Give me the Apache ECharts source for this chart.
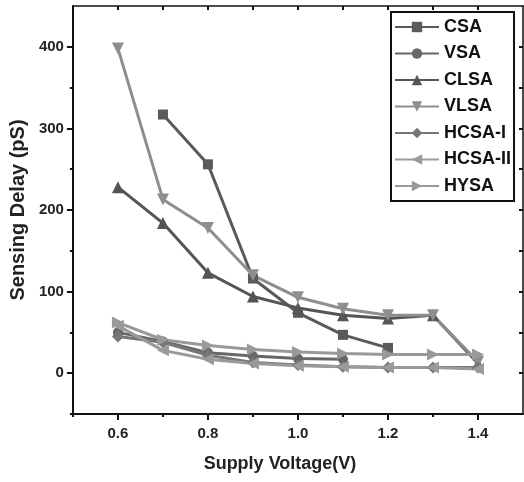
<!DOCTYPE html>
<html>
<head>
<meta charset="utf-8">
<script src="https://cdn.jsdelivr.net/npm/echarts@6/dist/echarts.min.js"></script>
<style>html,body{margin:0;padding:0;background:#fff}#c{width:524px;height:482px}</style>
</head>
<body>
<div id="c"></div>
<script>
var voltages = [0.6, 0.7, 0.8, 0.9, 1.0, 1.1, 1.2, 1.3, 1.4];
var CSA     = [null, 317, 256, 116, 74, 47, 31, null, null];
var VSA     = [50, 39, 25, 21, 18, 17, null, null, null];
var CLSA    = [228, 184, 123, 94, 80, 71, 67, 71, 12];
var VLSA    = [398, 213, 178, 120, 93, 79, 71, 71, 14];
var HCSA_I  = [45, 38, 22, 13, 10, 8, 7, 7, 7];
var HCSA_II = [58, 28, 17, 12, 9, 8, 7, 7, 5];
var HYSA    = [62, 41, 34, 29, 26, 24, 23, 23, 23];
var xTickLabels = [0.6, 0.8, 1.0, 1.2, 1.4];
var yTickLabels = [0, 100, 200, 300, 400];

function pairs(arr) {
  var out = [];
  for (var i = 0; i < voltages.length; i++) {
    if (arr[i] !== null) out.push([voltages[i], arr[i]]);
  }
  return out;
}

var font = 'Liberation Sans, Arial, sans-serif';
var seriesDefs = [
  {name: 'CSA', data: CSA, symbol: 'rect', rot: 0, color: '#5a5a5a', size: 10},
  {name: 'VSA', data: VSA, symbol: 'circle', rot: 0, color: '#676767', size: 10},
  {name: 'CLSA', data: CLSA, symbol: 'triangle', rot: 0, color: '#555555', size: 12},
  {name: 'VLSA', data: VLSA, symbol: 'triangle', rot: 180, color: '#8e8e8e', size: 12},
  {name: 'HCSA-I', data: HCSA_I, symbol: 'diamond', rot: 0, color: '#767676', size: 12},
  {name: 'HCSA-II', data: HCSA_II, symbol: 'triangle', rot: 90, color: '#9a9a9a', size: 12},
  {name: 'HYSA', data: HYSA, symbol: 'triangle', rot: -90, color: '#999999', size: 12}
];

var chart = echarts.init(document.getElementById('c'), null, {renderer: 'canvas'});
var axisLineBold = {show: true, onZero: false, lineStyle: {color: '#111', width: 2}};
chart.setOption({
  animation: false,
  backgroundColor: '#fff',
  grid: {left: 69, right: 1, top: 6, bottom: 68, containLabel: false},
  legend: {
    orient: 'vertical',
    left: 391, top: 12,
    padding: [6, 3, 6, 3],
    borderColor: '#111', borderWidth: 2, backgroundColor: '#fff',
    itemWidth: 44, itemHeight: 13, itemGap: 8.5,
    textStyle: {fontFamily: font, fontWeight: 'bold', fontSize: 18, color: '#111', lineHeight: 18},
    data: seriesDefs.map(function (s) { return s.name; })
  },
  xAxis: [
    {
      type: 'value', position: 'bottom', min: 0.5, max: 1.5, interval: 0.1,
      axisLine: axisLineBold,
      axisTick: {show: true, inside: false, length: 6, lineStyle: {color: '#111', width: 2}, customValues: xTickLabels},
      axisLabel: {show: true, customValues: xTickLabels, margin: 12, fontFamily: font, fontWeight: 'bold', fontSize: 15, color: '#222',
        formatter: function (v) { return v.toFixed(1); }},
      splitLine: {show: false},
      name: 'Supply Voltage(V)', nameLocation: 'middle', nameGap: 41,
      nameTextStyle: {fontFamily: font, fontWeight: 'bold', fontSize: 18, color: '#222', padding: [0, 36, 0, 0]}
    },
    {
      type: 'value', position: 'bottom', offset: 0, min: 0.5, max: 1.5, interval: 0.1,
      axisLine: {show: false, onZero: false},
      axisTick: {show: true, length: 3, lineStyle: {color: '#111', width: 2}, customValues: [0.5, 0.7, 0.9, 1.1, 1.3]},
      axisLabel: {show: false}, splitLine: {show: false}
    },
    {
      type: 'value', position: 'top', min: 0.5, max: 1.5, interval: 0.1,
      axisLine: {show: true, onZero: false, lineStyle: {color: '#111', width: 1.5}},
      axisTick: {show: true, inside: true, length: 4, lineStyle: {color: '#111', width: 2}, customValues: [0.6, 0.7, 0.8, 0.9, 1.0, 1.1, 1.2, 1.3, 1.4]},
      axisLabel: {show: false}, splitLine: {show: false}
    }
  ],
  yAxis: [
    {
      type: 'value', position: 'left', min: -50, max: 450, interval: 50,
      axisLine: axisLineBold,
      axisTick: {show: true, inside: false, length: 6, lineStyle: {color: '#111', width: 2}, customValues: yTickLabels},
      axisLabel: {show: true, customValues: yTickLabels, margin: 9, fontFamily: font, fontWeight: 'bold', fontSize: 15, color: '#222'},
      splitLine: {show: false},
      name: 'Sensing Delay (pS)', nameLocation: 'middle', nameGap: 42,
      nameTextStyle: {fontFamily: font, fontWeight: 'bold', fontSize: 20, color: '#222'}
    },
    {
      type: 'value', position: 'left', offset: 0, min: -50, max: 450, interval: 50,
      axisLine: {show: false, onZero: false},
      axisTick: {show: true, length: 3, lineStyle: {color: '#111', width: 2}, customValues: [-50, 50, 150, 250, 350]},
      axisLabel: {show: false}, splitLine: {show: false}
    },
    {
      type: 'value', position: 'right', min: -50, max: 450, interval: 50,
      axisLine: {show: true, onZero: false, lineStyle: {color: '#111', width: 1.5}},
      axisTick: {show: true, inside: true, length: 4, lineStyle: {color: '#111', width: 2}, customValues: [0, 50, 100, 150, 200, 250, 300, 350, 400]},
      axisLabel: {show: false}, splitLine: {show: false}
    }
  ],
  series: seriesDefs.map(function (s) {
    return {
      name: s.name, type: 'line', xAxisIndex: 0, yAxisIndex: 0,
      data: pairs(s.data),
      symbol: s.symbol, symbolRotate: s.rot, symbolSize: s.size,
      lineStyle: {color: s.color, width: 3},
      itemStyle: {color: s.color},
      color: s.color
    };
  })
});
</script>
</body>
</html>
